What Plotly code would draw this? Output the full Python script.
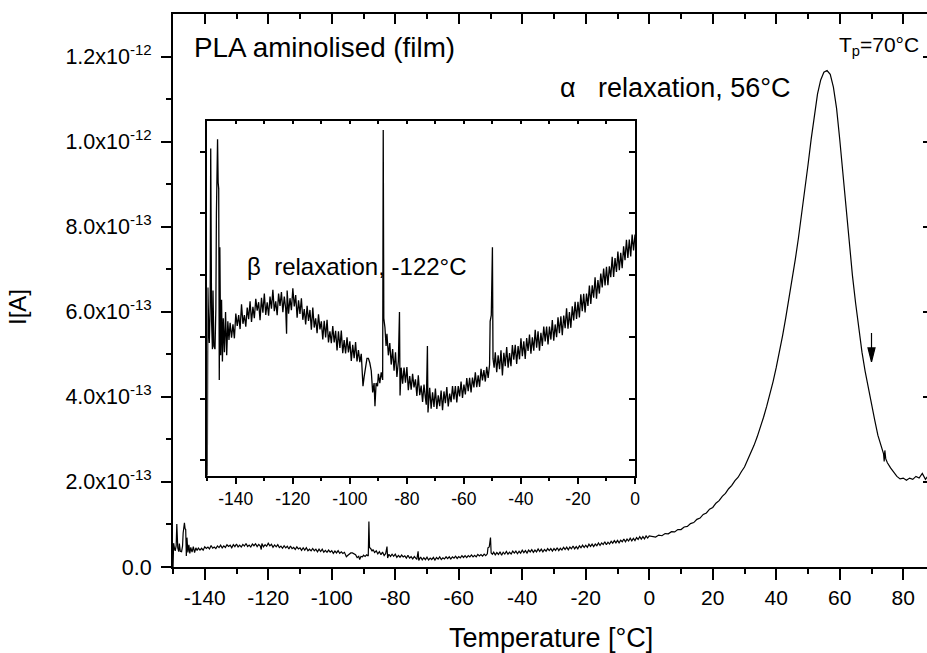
import plotly.graph_objects as go

# ---------------- data (current in units of 1e-14 A) ----------------
# low-temperature part (also shown in the inset)
temp_low = [
    -150.0, -149.8, -149.5, -149.3, -149.0, -148.8, -148.5, -148.2, -148.0, -147.7,
    -147.3, -147.0, -146.8, -146.6, -146.4, -146.2, -146.0, -145.8, -145.6, -145.3,
    -145.0, -144.7, -144.4, -144.0, -143.6, -143.2, -142.8, -142.4,
    -142.0, -141.5, -141.0, -140.5, -140.0, -139.5, -139.0, -138.5, -138.0, -137.5,
    -137.0, -136.5, -136.0, -135.5, -135.0, -134.5, -134.0, -133.5, -133.0, -132.5,
    -132.0, -131.5, -131.0, -130.5, -130.0, -129.5, -129.0, -128.5, -128.0, -127.5,
    -127.0, -126.5, -126.0, -125.5, -125.0, -124.5, -124.0, -123.5, -123.0, -122.5,
    -122.2,
    -122.0, -121.5, -121.0, -120.5, -120.0, -119.5, -119.0, -118.5, -118.0, -117.5,
    -117.0, -116.5, -116.0, -115.5, -115.0, -114.5, -114.0, -113.5, -113.0, -112.5,
    -112.0, -111.5, -111.0, -110.5, -110.0, -109.5, -109.0, -108.5, -108.0, -107.5,
    -107.0, -106.5, -106.0, -105.5, -105.0, -104.5, -104.0, -103.5, -103.0, -102.5,
    -102.0, -101.5, -101.0, -100.5, -100.0, -99.5, -99.0, -98.5, -98.0, -97.5,
    -97.0, -96.5,
    -96.0, -95.8, -95.4, -95.0, -94.5, -94.0, -93.5, -93.0, -92.5, -92.0,
    -91.5, -91.2, -90.8, -90.3, -90.0, -89.5, -89.0, -88.5, -88.3, -88.1,
    -87.7, -87.3, -87.0, -86.5, -86.0, -85.5, -85.0, -84.5, -84.0, -83.5,
    -83.0, -82.6, -82.4, -82.0,
    -81.5, -81.0, -80.5, -80.0, -79.5, -79.0, -78.5, -78.0, -77.5, -77.0,
    -76.5, -76.0, -75.5, -75.0, -74.5, -74.0, -73.5,
    -73.2, -72.8, -72.6,
    -72.0, -71.5, -71.0, -70.5, -70.0, -69.5, -69.0, -68.5, -68.0, -67.5,
    -67.0, -66.5, -66.0, -65.5, -65.0, -64.5, -64.0, -63.5, -63.0, -62.5,
    -62.0, -61.5, -61.0, -60.5, -60.0, -59.5, -59.0, -58.5, -58.0, -57.5,
    -57.0, -56.5, -56.0, -55.5, -55.0, -54.5, -54.0, -53.5, -53.0, -52.5,
    -52.0, -51.5,
    -51.0, -50.8, -50.4, -50.0, -49.8, -49.4,
    -49.0, -48.5, -48.0, -47.5, -47.0, -46.5, -46.0, -45.5, -45.0, -44.5,
    -44.0, -43.5, -43.0, -42.5, -42.0, -41.5, -41.0, -40.5, -40.0, -39.5,
    -39.0, -38.5, -38.0, -37.5, -37.0, -36.5, -36.0, -35.5, -35.0, -34.5,
    -34.0, -33.5, -33.0, -32.5, -32.0, -31.5, -31.0, -30.5, -30.0, -29.5,
    -29.0, -28.5, -28.0, -27.5, -27.0, -26.5, -26.0, -25.5, -25.0, -24.5,
    -24.0, -23.5, -23.0, -22.5, -22.0, -21.5, -21.0, -20.5, -20.0, -19.5,
    -19.0, -18.5, -18.0, -17.5, -17.0, -16.5, -16.0, -15.5, -15.0, -14.5,
    -14.0, -13.5, -13.0, -12.5, -12.0, -11.5, -11.0, -10.5, -10.0, -9.5,
    -9.0, -8.5, -8.0, -7.5, -7.0, -6.5, -6.0, -5.5, -5.0, -4.5,
    -4.0, -3.5, -3.0, -2.5, -2.0, -1.5, -1.0, -0.5, 0.0,
]
current_low = [
    -0.5, 5.6, 4.2, 3.8, 5.0, 10.1, 4.5, 3.6, 5.5, 3.7,
    3.6, 4.9, 8.0, 9.6, 10.4, 9.0, 8.8, 2.6, 6.9, 3.4,
    5.2, 3.2, 4.6, 3.5, 4.8, 3.4, 4.5, 3.9,
    4.45, 3.97, 4.4, 3.95, 4.75, 4.35, 4.7, 4.25, 5.05, 4.42,
    4.7, 4.33, 4.95, 4.57, 5.15, 4.48, 4.97, 4.6, 5.23, 4.85,
    5.12, 4.54, 5.26, 4.78, 5.4, 4.71, 5.12, 4.68, 5.3, 4.91,
    5.52, 4.83, 5.15, 4.7, 5.4, 5.0, 5.45, 4.8, 5.3, 4.9,
    4.1,
    5.5, 4.75, 5.25, 4.86, 5.57, 4.98, 5.35, 4.62, 5.18, 4.74,
    5.25, 4.55, 4.9, 4.4, 5.0, 4.51, 4.87, 4.23, 4.95, 4.3,
    4.6, 4.12, 4.73, 4.24, 4.5, 3.91, 4.52, 3.98, 4.55, 3.82,
    4.18, 3.79, 4.35, 3.82, 4.19, 3.56, 4.18, 3.64, 4.2, 3.47,
    3.89, 3.46, 3.98, 3.49, 3.85, 3.22, 3.74, 3.31, 3.83, 3.2,
    3.57, 3.18,
    3.45, 2.9, 2.4, 2.7, 3.1, 3.3, 3.3, 3.15, 2.9, 2.2,
    2.5, 1.75, 2.5, 2.4, 2.8, 2.5, 2.85, 2.6, 10.7, 4.6,
    4.3, 3.7, 4.1, 3.4, 3.8, 3.1, 3.6, 2.9, 3.5, 2.7,
    3.2, 4.8, 2.1, 3.0,
    2.48, 3.0, 2.51, 3.02, 2.27, 2.73, 2.29, 2.8, 2.36, 2.62,
    2.08, 2.75, 2.11, 2.42, 1.89, 2.45, 2.01,
    1.8, 3.7, 1.55,
    2.35, 1.67, 2.2, 1.73, 2.32, 1.66, 2.1, 1.75, 2.26, 1.62,
    2.23, 1.85, 2.37, 1.74, 2.16, 1.88, 2.4, 1.97, 2.4, 1.87,
    2.4, 2.07, 2.55, 2.02, 2.45, 2.13, 2.66, 2.24, 2.67, 2.2,
    2.68, 2.36, 2.85, 2.37, 2.75, 2.38, 2.96, 2.59, 2.92, 2.55,
    3.03, 2.67,
    3.1, 4.5, 4.7, 6.9, 3.3, 3.0,
    3.5, 2.85, 3.4, 2.95, 3.56, 2.75, 3.48, 3.05, 3.67, 3.0,
    3.47, 3.05, 3.73, 3.26, 3.74, 3.12, 3.7, 3.27, 3.95, 3.37,
    3.85, 3.28, 3.96, 3.54, 4.07, 3.45, 3.98, 3.55, 4.23, 3.65,
    4.18, 3.55, 4.13, 3.7, 4.33, 3.85, 4.33, 3.75, 4.33, 3.91,
    4.54, 3.87, 4.4, 3.99, 4.63, 4.12, 4.66, 4.05, 4.69, 4.28,
    4.92, 4.26, 4.8, 4.29, 4.99, 4.53, 5.13, 4.58, 5.13, 4.63,
    5.38, 4.83, 5.39, 4.79, 5.4, 5.0, 5.66, 5.06, 5.67, 5.27,
    5.93, 5.23, 5.84, 5.4, 6.05, 5.6, 6.21, 5.66, 6.27, 5.67,
    6.28, 5.93, 6.59, 5.94, 6.55, 6.1, 6.76, 6.16, 6.72, 6.22,
    6.93, 6.48, 7.14, 6.55, 7.15, 6.6, 7.31, 6.8, 7.31,
]
# high-temperature part (alpha relaxation peak)
temp_high = [
    1, 2, 3, 4, 5, 6, 7, 8, 9, 10,
    11, 12, 13, 14, 15, 16, 17, 18, 19, 20,
    21, 22, 23, 24, 25, 26, 27, 28, 29, 30,
    31, 32, 33, 34, 35, 36, 37, 38, 39, 40,
    41, 42, 43, 44, 45, 46, 47, 48, 49, 50,
    51, 52, 53, 54, 55, 56, 57, 58, 59, 60,
    61, 62, 63, 64, 65, 66, 67, 68, 69, 70,
    71, 72, 73, 73.8, 74.0, 74.2, 74.5, 75, 76, 77,
    78, 79, 80, 81, 82, 83, 84, 85, 86, 87, 88,
]
current_high = [
    7.2, 7.05, 7.5, 7.35, 7.85, 7.8, 8.3, 8.25, 8.8, 8.8,
    9.4, 9.55, 10.2, 10.45, 11.2, 11.5, 12.35, 12.7, 13.6, 14.0,
    15.0, 15.6, 16.6, 17.3, 18.4, 19.2, 20.3, 21.1, 22.4, 23.5,
    25.2, 26.8, 28.6, 30.6, 32.8, 35.2, 37.8, 40.6, 43.6, 46.9,
    50.5, 54.4, 58.6, 63.0, 67.5, 72.3, 77.4, 82.8, 88.5, 94.5,
    100.6, 106.3, 111.2, 114.5, 116.3, 116.7, 115.8, 112.8, 107.8, 100.5,
    92.0, 83.5, 75.8, 68.5, 62.0, 55.8, 50.5, 46.0, 42.0, 38.4,
    34.6, 31.0, 28.3, 26.6, 24.8, 27.4, 25.4, 24.5, 23.3, 22.3,
    21.3, 20.7, 20.9, 20.4, 20.9, 20.6, 21.3, 20.9, 22.0, 20.6, 21.6,
]
assert len(temp_low) == len(current_low) and len(temp_high) == len(current_high)

main_x_ticks = [-140, -120, -100, -80, -60, -40, -20, 0, 20, 40, 60, 80]
main_x_labels = ["-140", "-120", "-100", "-80", "-60", "-40", "-20", "0", "20", "40", "60", "80"]
main_x_minor = [-150, -130, -110, -90, -70, -50, -30, -10, 10, 30, 50, 70]
main_y_ticks = [0, 2e-13, 4e-13, 6e-13, 8e-13, 1e-12, 1.2e-12]
main_y_labels = ["0.0", "2.0x10<sup>-13</sup>", "4.0x10<sup>-13</sup>", "6.0x10<sup>-13</sup>",
                 "8.0x10<sup>-13</sup>", "1.0x10<sup>-12</sup>", "1.2x10<sup>-12</sup>"]
main_y_minor = [1e-13, 3e-13, 5e-13, 7e-13, 9e-13, 1.1e-12]
inset_x_ticks = [-140, -120, -100, -80, -60, -40, -20, 0]
inset_x_labels = ["-140", "-120", "-100", "-80", "-60", "-40", "-20", "0"]
inset_x_minor = [-150, -130, -110, -90, -70, -50, -30, -10]
inset_x_top = [-140, -130, -120, -110, -100, -90, -80, -70, -60, -50, -40, -30, -20, -10]
inset_y_ticks = [0, 2e-14, 4e-14, 6e-14, 8e-14, 1e-13]

tp_temperature = 70          # arrow marking T_p
tp_arrow_current = 4.82e-13  # arrow tip level

scale = 1e-14
T_all = temp_low + temp_high
I_all = [v * scale for v in current_low + current_high]
I_low = [v * scale for v in current_low]

# ---------------- layout geometry (pixels) ----------------
W, H = 927, 653
L, R, T, B = 173, 927, 14, 567
pw, ph = R - L, B - T


def px(x):
    return (x - L) / pw


def py(y):
    return (B - y) / ph


FONT = "Liberation Sans, Arial, sans-serif"
BLACK = "black"

xr_main = [-150, -150 + pw / 3.175]
yr_main = [0, 1.3e-12]
xr_in = [-150, 0]
yr_in = [-0.5e-14, 11e-14]

fig = go.Figure()
fig.add_trace(go.Scatter(x=T_all, y=I_all, mode="lines", line=dict(color=BLACK, width=1.2),
                         xaxis="x", yaxis="y", showlegend=False, hoverinfo="skip"))
fig.add_trace(go.Scatter(x=temp_low, y=I_low, mode="lines", line=dict(color=BLACK, width=1.3),
                         xaxis="x2", yaxis="y2", showlegend=False, hoverinfo="skip"))
# invisible helper traces so that the mirrored (inside-tick) axes get drawn
for xa, ya in (("x3", "y"), ("x", "y3"), ("x4", "y2"), ("x2", "y4")):
    fig.add_trace(go.Scatter(x=[None], y=[None], xaxis=xa, yaxis=ya, mode="markers",
                             showlegend=False, hoverinfo="skip"))

in_x0, in_x1 = px(207.3), px(635)
in_y0, in_y1 = py(475.7), py(120.7)

fig.update_layout(
    width=W, height=H,
    margin=dict(l=L, r=W - R, t=T, b=H - B, autoexpand=False),
    paper_bgcolor="white", plot_bgcolor="rgba(0,0,0,0)",
    font=dict(family=FONT, color=BLACK),
    xaxis=dict(domain=[0, 1], range=xr_main, anchor="y", showgrid=False, zeroline=False,
               showline=True, linecolor=BLACK, linewidth=2,
               tickmode="array", tickvals=main_x_ticks, ticktext=main_x_labels,
               ticks="outside", ticklen=11, tickwidth=2, tickcolor=BLACK,
               tickfont=dict(size=21, family=FONT), ticklabelstandoff=0,
               minor=dict(tickmode="array", tickvals=main_x_minor, ticks="outside",
                          ticklen=5, tickwidth=2, tickcolor=BLACK)),
    xaxis3=dict(overlaying="x", side="top", anchor="y", range=xr_main, showgrid=False,
                zeroline=False, showline=True, linecolor=BLACK, linewidth=2,
                showticklabels=False, tickmode="array", tickvals=main_x_ticks,
                ticks="inside", ticklen=10, tickwidth=2, tickcolor=BLACK,
                minor=dict(tickmode="array", tickvals=main_x_minor, ticks="inside",
                           ticklen=5, tickwidth=2, tickcolor=BLACK)),
    yaxis=dict(domain=[0, 1], range=yr_main, anchor="x", showgrid=False, zeroline=False,
               showline=True, linecolor=BLACK, linewidth=2,
               tickmode="array", tickvals=main_y_ticks, ticktext=main_y_labels,
               ticks="outside", ticklen=10, tickwidth=2, tickcolor=BLACK,
               tickfont=dict(size=21.5, family=FONT), ticklabelstandoff=5,
               minor=dict(tickmode="array", tickvals=main_y_minor, ticks="outside",
                          ticklen=5, tickwidth=2, tickcolor=BLACK)),
    yaxis3=dict(overlaying="y", side="right", anchor="x", range=yr_main, showgrid=False,
                zeroline=False, showline=False, showticklabels=False,
                tickmode="array", tickvals=main_y_ticks, ticks="inside", ticklen=4,
                tickwidth=2, tickcolor=BLACK),
    xaxis2=dict(domain=[in_x0, in_x1], range=xr_in, anchor="y2", showgrid=False,
                zeroline=False, showline=True, linecolor=BLACK, linewidth=1.5,
                tickmode="array", tickvals=inset_x_ticks, ticktext=inset_x_labels,
                ticks="outside", ticklen=7, tickwidth=1.5, tickcolor=BLACK,
                tickfont=dict(size=17.5, family=FONT), ticklabelstandoff=0,
                minor=dict(tickmode="array", tickvals=inset_x_minor, ticks="outside",
                           ticklen=3.5, tickwidth=1.5, tickcolor=BLACK)),
    xaxis4=dict(overlaying="x2", side="top", anchor="y2", range=xr_in, showgrid=False,
                zeroline=False, showline=True, linecolor=BLACK, linewidth=1.5,
                showticklabels=False, tickmode="array", tickvals=inset_x_top,
                ticks="inside", ticklen=4, tickwidth=1.5, tickcolor=BLACK),
    yaxis2=dict(domain=[in_y0, in_y1], range=yr_in, anchor="x2", showgrid=False,
                zeroline=False, showline=True, linecolor=BLACK, linewidth=1.5,
                showticklabels=False, tickmode="array", tickvals=inset_y_ticks,
                ticks="outside", ticklen=6, tickwidth=1.5, tickcolor=BLACK),
    yaxis4=dict(overlaying="y2", side="right", anchor="x2", range=yr_in, showgrid=False,
                zeroline=False, showline=True, linecolor=BLACK, linewidth=1.5,
                showticklabels=False, tickmode="array", tickvals=inset_y_ticks,
                ticks="inside", ticklen=6, tickwidth=1.5, tickcolor=BLACK),
)

ann = [
    dict(text="PLA aminolised (film)", x=px(192), y=py(47), xanchor="left", yanchor="middle",
         font=dict(size=27.8)),
    dict(text="\u03b1\u00a0\u00a0\u00a0relaxation, 56°C", x=px(793), y=py(88), xanchor="right",
         yanchor="middle", font=dict(size=27)),
    dict(text="\u03b2\u00a0\u00a0relaxation, -122°C", x=px(245), y=py(266), xanchor="left",
         yanchor="middle", font=dict(size=24)),
    dict(text="T<sub>p</sub>=70°C", x=px(836.5), y=py(46), xanchor="left", yanchor="middle",
         font=dict(size=21)),
    dict(text="Temperature [°C]", x=px(551), y=py(637.5), xanchor="center", yanchor="middle",
         font=dict(size=27)),
    dict(text="I[A]", x=px(17), y=py(307), xanchor="center", yanchor="middle",
         textangle=-90, font=dict(size=24)),
]
for a in ann:
    a.update(xref="paper", yref="paper", showarrow=False)
    a["font"].update(family=FONT, color=BLACK)
    fig.add_annotation(**a)

# downward arrow at T_p: shaft + long narrow filled head (pixel-sized, anchored at the tip)
fig.add_shape(type="path", xref="x", yref="y", xsizemode="pixel", ysizemode="pixel",
              xanchor=tp_temperature, yanchor=tp_arrow_current,
              path="M 0 29 L 0 12 M -3.5 14 L 3.5 14 L 0 0 Z",
              line=dict(color=BLACK, width=1.2), fillcolor=BLACK)

fig.write_html("out.html", config={"displayModeBar": False},
               post_script="document.body.style.margin='0';"
                           "document.body.style.overflow='hidden';")
